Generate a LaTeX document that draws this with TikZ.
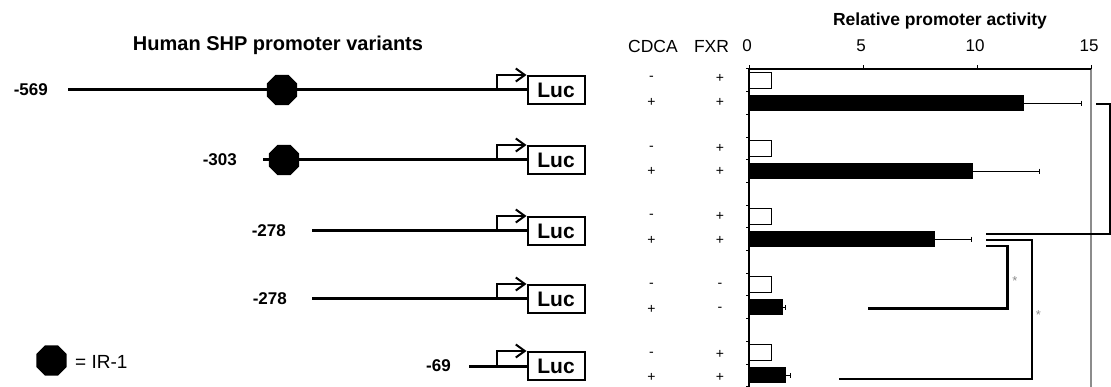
\documentclass[tikz,border=0pt]{standalone}
\usepackage{fontspec}
\setmainfont{Liberation Sans}
\usetikzlibrary{shapes.geometric,arrows.meta}
\newcommand{\fsz}[1]{\fontsize{#1}{#1}\selectfont}
\begin{document}
\begin{tikzpicture}[x=1pt,y=-1pt,
 ir/.style={regular polygon, regular polygon sides=8, fill=black, draw=none, minimum size=33pt, inner sep=0pt},
 lucbox/.style={draw, fill=white, line width=2pt, minimum width=57pt, minimum height=28pt, inner sep=0pt, font=\fsz{21}\bfseries},
 dna/.style={line width=3pt},
 tss/.style={line width=2pt, -{Straight Barb[length=9pt,width=13pt]}},
 poslab/.style={anchor=east, inner sep=0pt, font=\fsz{17}\bfseries},
 sgn/.style={inner sep=0pt, font=\fsz{14}},
 hdr/.style={inner sep=0pt, font=\fsz{17.5}},
 wbar/.style={draw, fill=white, line width=1pt},
 bbar/.style={draw, fill=black, line width=1pt},
 errb/.style={line width=1pt},
 brk/.style={line width=2.5pt},
 star/.style={inner sep=0pt, text=black!45, font=\fsz{13}}
]
\useasboundingbox (0,0) rectangle (1111,387);

% titles
\node[inner sep=0pt, font=\fsz{20}\bfseries] (title) at (278,45) {Human SHP promoter variants};
\node[inner sep=0pt, font=\fsz{17.5}\bfseries] (ytitle) at (940,21) {Relative promoter activity};
\node[hdr] (cdca) at (653,46) {CDCA};
\node[hdr] (fxr) at (711.5,46) {FXR};

% constructs
\foreach \i/\Y in {1/90,2/160,3/231,4/299,5/366}{
  \node[lucbox] (luc\i) at (556,\Y) {Luc};
  \coordinate (bend\i) at (497,\Y);
}
\coordinate (s1) at (68,90);
\coordinate (s2) at (263,160);
\coordinate (s3) at (312,231);
\coordinate (s4) at (312,299);
\coordinate (s5) at (469,366);
\foreach \i in {1,...,5}{
  \draw[dna] (s\i) -- (luc\i.west);
  \draw[tss] (bend\i) |- (luc\i.north west);
}
\node[ir] (ir1) at (282,90) {};
\node[ir] (ir2) at (284,160) {};

\node[poslab] (p1) at (48,90) {-569};
\node[poslab] (p2) at (237,160) {-303};
\node[poslab] (p3) at (286,231) {-278};
\node[poslab] (p4) at (287,299) {-278};
\node[poslab] (p5) at (451,366) {-69};

% legend
\node[ir] (irleg) at (51.5,360.5) {};
\node[inner sep=0pt, anchor=west, font=\fsz{19}] (leg) at (75,362) {= IR-1};

% signs
\foreach \i/\ya/\yb/\ca/\fa/\cb/\fb in {1/78/102/-/+/+/+, 2/148/171/-/+/+/+, 3/216/240/-/+/+/+, 4/285/309/-/-/+/-, 5/354/377/-/+/+/+}{
  \node[sgn] (ca\i) at (651.5,\ya) {\ca};
  \node[sgn] (fa\i) at (720,\ya) {\fa};
  \node[sgn] (cb\i) at (651.5,\yb) {\cb};
  \node[sgn] (fb\i) at (720,\yb) {\fb};
}

% axes
\draw[black!45, line width=1.2pt] (1091,69) -- (1091,387);
\draw[line width=1.2pt] (749,69) -- (1091,69);
\draw[line width=1.2pt] (749,69) -- (749,387);
\foreach \v in {0,5,10,15}{
  \draw[line width=1pt] (749+22.8*\v,69) -- (749+22.8*\v,65.5);
  \node[inner sep=0pt, font=\fsz{17}] (tick\v) at (747+22.8*\v,46) {\v};
}
\foreach \k in {0,...,14}{
  \draw[line width=1pt] (749,69+22.7*\k) -- (745.5,69+22.7*\k);
}

% bars
\foreach \k/\v/\e in {0/12.03/14.6, 1/9.8/12.76, 2/8.13/9.77, 3/1.46/1.6, 4/1.58/1.8}{
  \pgfmathsetmacro\yw{80.35+68.1*\k}
  \pgfmathsetmacro\yb{103.05+68.1*\k}
  \draw[wbar] (749,\yw-8) rectangle (749+22.8,\yw+8);
  \draw[errb] (749+22.8*\v,\yb) -- (749+22.8*\e,\yb);
  \draw[errb] (749+22.8*\e,\yb-2.5) -- (749+22.8*\e,\yb+2.5);
  \draw[bbar] (749,\yb-7.5) rectangle (749+22.8*\v,\yb+7.5);
}

% significance brackets
\coordinate (b1a) at (1096,104);
\coordinate (b1b) at (986,234);
\draw[brk] (b1a) -- (1110,104) -- (1110,234) -- (b1b);
\coordinate (b2a) at (986,246);
\coordinate (b2b) at (868,308.5);
\draw[brk] (b2a) -- (1007.5,246) -- (1007.5,308.5) -- (b2b);
\coordinate (b3a) at (986,240);
\coordinate (b3b) at (839,379);
\draw[brk] (b3a) -- (1032,240) -- (1032,379) -- (b3b);
\node[star] (st1) at (1015,281) {*};
\node[star] (st2) at (1038.5,315.5) {*};
\end{tikzpicture}
\end{document}
